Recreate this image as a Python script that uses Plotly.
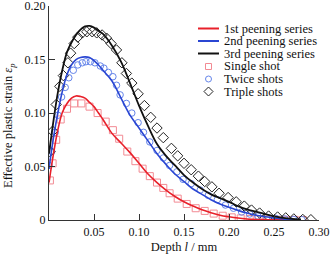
import plotly.graph_objects as go

# ---- fitted curves ----
curve_x = [0.0, 0.005, 0.01, 0.015, 0.02, 0.025, 0.03, 0.035, 0.04, 0.045, 0.05, 0.055, 0.06,
           0.07, 0.08, 0.09, 0.10, 0.11, 0.12, 0.13, 0.14, 0.15, 0.16, 0.17, 0.18, 0.19, 0.20,
           0.21, 0.22, 0.23, 0.24, 0.25, 0.26, 0.27, 0.28]
red_curve = [0.035, 0.062, 0.085, 0.101, 0.109, 0.114, 0.116, 0.1155, 0.114, 0.110, 0.106, 0.100, 0.094,
             0.081, 0.072, 0.063, 0.053, 0.043, 0.035, 0.028, 0.022, 0.017, 0.013, 0.0095, 0.0068,
             0.0045, 0.003, 0.0018, 0.001, 0.0005, 0.0003, 0.0002, 0.0001, 0.0, 0.0]
blue_curve = [0.048, 0.077, 0.101, 0.121, 0.136, 0.145, 0.150, 0.152, 0.1525, 0.152, 0.149, 0.145, 0.140,
              0.130, 0.114, 0.098, 0.086, 0.074, 0.062, 0.052, 0.043, 0.036, 0.029, 0.024, 0.019,
              0.015, 0.012, 0.009, 0.0065, 0.0045, 0.003, 0.002, 0.001, 0.0005, 0.0002]
black_curve = [0.062, 0.093, 0.120, 0.141, 0.157, 0.166, 0.173, 0.178, 0.181, 0.1815, 0.180, 0.177, 0.174,
               0.163, 0.148, 0.128, 0.107, 0.088, 0.071, 0.060, 0.051, 0.042, 0.035, 0.029, 0.024,
               0.0205, 0.017, 0.013, 0.010, 0.0078, 0.0055, 0.0035, 0.002, 0.001, 0.0005]

# ---- measured points ----
single_x = [0.001, 0.004, 0.008, 0.013, 0.02, 0.028, 0.036, 0.045, 0.054, 0.063, 0.071, 0.078, 0.087,
            0.096, 0.104, 0.112, 0.12, 0.127, 0.134, 0.143, 0.153, 0.163, 0.173, 0.183, 0.193, 0.203,
            0.213, 0.223, 0.233, 0.243, 0.253, 0.263, 0.273, 0.282]
single_y = [0.037, 0.053, 0.075, 0.094, 0.104, 0.109, 0.109, 0.106, 0.100, 0.092, 0.084, 0.076, 0.064,
            0.055, 0.048, 0.041, 0.035, 0.030, 0.025, 0.020, 0.015, 0.011, 0.0085, 0.006, 0.004, 0.0025,
            0.0015, 0.001, 0.0007, 0.0005, 0.0003, 0.0002, 0.0001, 0.0]

twice_x = [0.0, 0.003, 0.007, 0.01, 0.014, 0.018, 0.022, 0.027, 0.032, 0.037, 0.041, 0.046, 0.051,
           0.057, 0.061, 0.066, 0.071, 0.075, 0.079, 0.086, 0.092, 0.099, 0.105, 0.112, 0.12, 0.127,
           0.134, 0.142, 0.149, 0.158, 0.168, 0.177, 0.187, 0.196, 0.205, 0.214, 0.223, 0.232, 0.242,
           0.252, 0.262, 0.272, 0.281]
twice_y = [0.051, 0.064, 0.082, 0.098, 0.115, 0.124, 0.133, 0.140, 0.145, 0.147, 0.148, 0.148, 0.147,
           0.144, 0.142, 0.138, 0.134, 0.126, 0.117, 0.109, 0.100, 0.091, 0.082, 0.073, 0.065, 0.058,
           0.051, 0.045, 0.038, 0.034, 0.028, 0.023, 0.019, 0.014, 0.011, 0.0075, 0.0056, 0.0037,
           0.0025, 0.0015, 0.001, 0.0005, 0.0003]

triple_x = [0.001, 0.004, 0.008, 0.012, 0.016, 0.021, 0.024, 0.028, 0.032, 0.037, 0.042, 0.048, 0.053,
            0.059, 0.064, 0.069, 0.075, 0.081, 0.086, 0.092, 0.099, 0.106, 0.113, 0.12, 0.127, 0.136,
            0.143, 0.15, 0.158, 0.166, 0.173, 0.181, 0.189, 0.199, 0.208, 0.217, 0.225, 0.234, 0.244,
            0.254, 0.263, 0.272, 0.282, 0.291]
triple_y = [0.064, 0.083, 0.108, 0.125, 0.135, 0.147, 0.156, 0.165, 0.171, 0.175, 0.176, 0.176, 0.175,
            0.173, 0.170, 0.165, 0.159, 0.147, 0.137, 0.128, 0.118, 0.107, 0.096, 0.086, 0.077, 0.067,
            0.060, 0.053, 0.047, 0.041, 0.036, 0.031, 0.025, 0.021, 0.017, 0.013, 0.0093, 0.0065,
            0.0037, 0.0028, 0.002, 0.001, 0.0005, 0.0003]

x_tickvals = [0.05, 0.10, 0.15, 0.20, 0.25, 0.30]
x_ticktext = ["0.05", "0.10", "0.15", "0.20", "0.25", "0.30"]
y_tickvals = [0, 0.05, 0.10, 0.15, 0.20]
y_ticktext = ["0", "0.05", "0.10", "0.15", "0.20"]

legend_labels = ["1st peening series", "2nd peening series", "3rd peening series",
                 "Single shot", "Twice shots", "Triple shots"]

RED, BLUE, BLACK = "#e8202a", "#2a46d2", "#111111"
PINK, LBLUE, DGRAY = "#f28a93", "#6585ea", "#222222"
FONT = "Liberation Serif, Times New Roman, DejaVu Serif, serif"

fig = go.Figure()
fig.add_trace(go.Scatter(x=single_x, y=single_y, mode="markers", name=legend_labels[3],
                         marker=dict(symbol="square-open", size=7, color=PINK, line=dict(width=1))))
fig.add_trace(go.Scatter(x=twice_x, y=twice_y, mode="markers", name=legend_labels[4],
                         marker=dict(symbol="circle-open", size=6.5, color=LBLUE, line=dict(width=1))))
fig.add_trace(go.Scatter(x=triple_x, y=triple_y, mode="markers", name=legend_labels[5],
                         marker=dict(symbol="diamond-open", size=8, color=DGRAY, line=dict(width=1))))
fig.add_trace(go.Scatter(x=curve_x, y=red_curve, mode="lines", name=legend_labels[0],
                         line=dict(color=RED, width=1.6, shape="spline")))
fig.add_trace(go.Scatter(x=curve_x, y=blue_curve, mode="lines", name=legend_labels[1],
                         line=dict(color=BLUE, width=1.6, shape="spline")))
fig.add_trace(go.Scatter(x=curve_x, y=black_curve, mode="lines", name=legend_labels[2],
                         line=dict(color=BLACK, width=1.8, shape="spline")))

# ---- compact legend built from layout items ----
W, H = 332, 255
L, R, T, B = 49, 13, 6, 35
pw, ph = W - L - R, H - T - B

def px2paper(px, py):
    return (px - L) / pw, (H - B - py) / ph

rows_py = [28.5, 41, 53.5, 66.5, 79, 91.5]
line_x0, line_x1, sym_x, text_x = 198, 219, 208.5, 223
shapes = []
annotations = []
line_colors = [RED, BLUE, BLACK]
for i, py in enumerate(rows_py):
    xt, yt = px2paper(text_x, py)
    annotations.append(dict(x=xt, y=yt, xref="paper", yref="paper", xanchor="left", yanchor="middle",
                            text=legend_labels[i], showarrow=False, borderpad=0,
                            font=dict(family=FONT, size=12.5, color="#111")))
    xa, ya = px2paper(sym_x, py)
    if i < 3:
        x0, _ = px2paper(line_x0, py)
        x1, _ = px2paper(line_x1, py)
        shapes.append(dict(type="line", xref="paper", yref="paper", x0=x0, x1=x1, y0=ya, y1=ya,
                           line=dict(color=line_colors[i], width=2)))
    elif i == 3:
        shapes.append(dict(type="rect", xref="paper", yref="paper", xsizemode="pixel", ysizemode="pixel",
                           xanchor=xa, yanchor=ya, x0=-3, x1=3, y0=-3, y1=3,
                           line=dict(color=PINK, width=1)))
    elif i == 4:
        shapes.append(dict(type="circle", xref="paper", yref="paper", xsizemode="pixel", ysizemode="pixel",
                           xanchor=xa, yanchor=ya, x0=-3, x1=3, y0=-3, y1=3,
                           line=dict(color=LBLUE, width=1)))
    else:
        shapes.append(dict(type="path", xref="paper", yref="paper", xsizemode="pixel", ysizemode="pixel",
                           xanchor=xa, yanchor=ya, path="M -4.5 0 L 0 4.5 L 4.5 0 L 0 -4.5 Z",
                           line=dict(color=DGRAY, width=1)))

# y-axis title as a rotated annotation, positioned like the reference
yt_x, yt_y = px2paper(9, 126)
annotations.append(dict(x=yt_x, y=yt_y, xref="paper", yref="paper", xanchor="center", yanchor="middle",
                        textangle=-90, showarrow=False,
                        text="Effective plastic strain <i>ε</i><sub><i>p</i></sub>",
                        font=dict(family=FONT, size=12.5, color="#111")))

fig.update_layout(
    width=W, height=H,
    margin=dict(l=L, r=R, t=T, b=B, autoexpand=False),
    paper_bgcolor="white", plot_bgcolor="white",
    showlegend=False,
    font=dict(family=FONT, size=12, color="#111"),
    shapes=shapes, annotations=annotations,
    xaxis=dict(range=[0, 0.30], tickvals=x_tickvals, ticktext=x_ticktext,
               ticks="inside", ticklen=6, tickcolor="#333", showline=True, linecolor="#333",
               linewidth=1.2, showgrid=False, zeroline=False, automargin=False,
               ticklabeloverflow="allow",
               title=dict(text="Depth <i>l</i> / mm", standoff=4, font=dict(size=12.5))),
    yaxis=dict(range=[0, 0.2001], tickvals=y_tickvals, ticktext=y_ticktext,
               ticks="inside", ticklen=6, tickcolor="#333", showline=True, linecolor="#333",
               linewidth=1.2, showgrid=False, zeroline=False, automargin=False,
               ticklabeloverflow="allow"),
)

fig.write_html("out.html", config={"displayModeBar": False, "staticPlot": True},
               post_script="document.body.style.margin='0';")
